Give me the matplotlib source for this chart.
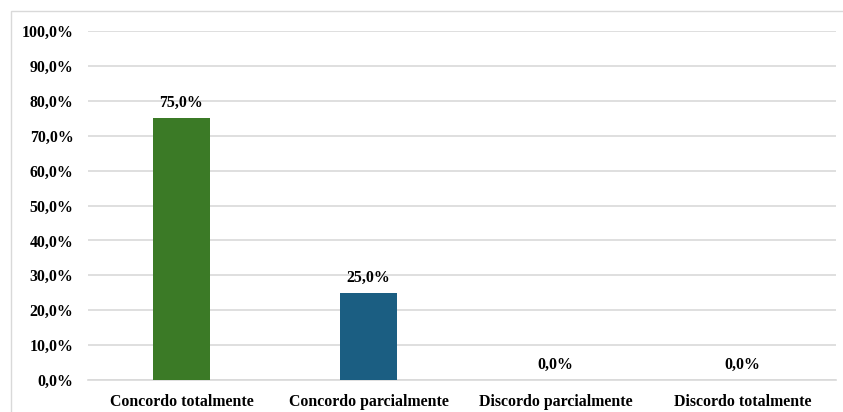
import matplotlib.pyplot as plt
from matplotlib.patches import Rectangle

categories = ["Concordo totalmente", "Concordo parcialmente",
              "Discordo parcialmente", "Discordo totalmente"]
values = [75.0, 25.0, 0.0, 0.0]
colors = ["#3b7a26", "#1b5e82", "#3b7a26", "#1b5e82"]
yticks = [0, 10, 20, 30, 40, 50, 60, 70, 80, 90, 100]

plt.rcParams['font.family'] = ['Liberation Serif', 'DejaVu Serif']
plt.rcParams['font.weight'] = 'bold'

fig = plt.figure(figsize=(8.43, 4.12), dpi=100)
ax = fig.add_axes([88 / 843, 32 / 412, 748 / 843, 349 / 412])

x = list(range(len(categories)))
ax.bar(x, values, width=0.31, color=colors, zorder=3)

for xi, v in zip(x, values):
    ax.annotate(f"{v:.1f}%".replace(".", ","), (xi, v), xytext=(0, 5),
                textcoords="offset points", ha="center", va="bottom",
                fontsize=11.4, fontweight="bold")

ax.set_xlim(-0.5, len(categories) - 0.5)
ax.set_ylim(0, 100)
ax.set_yticks(yticks)
ax.set_yticklabels([f"{t:.1f}%".replace(".", ",") for t in yticks])
ax.set_xticks(x)
ax.set_xticklabels(categories)
ax.tick_params(axis="both", length=0, labelsize=11.4)
ax.tick_params(axis="y", pad=10.5)
ax.tick_params(axis="x", pad=10)
for lbl in ax.get_xticklabels() + ax.get_yticklabels():
    lbl.set_fontweight("bold")

ax.grid(axis="y", color="#d9d9d9", linewidth=1.2, zorder=0)
for side in ["top", "right", "left"]:
    ax.spines[side].set_visible(False)
ax.spines["bottom"].set_color("#d9d9d9")
ax.spines["bottom"].set_linewidth(1.2)

# outer frame of the chart area
fig.patches.append(Rectangle((11 / 843, -0.05), 1.0, 1.05 - 11 / 412,
                             transform=fig.transFigure, fill=False,
                             edgecolor="#d9d9d9", linewidth=1.0))

fig.savefig("out.png", dpi=100)
